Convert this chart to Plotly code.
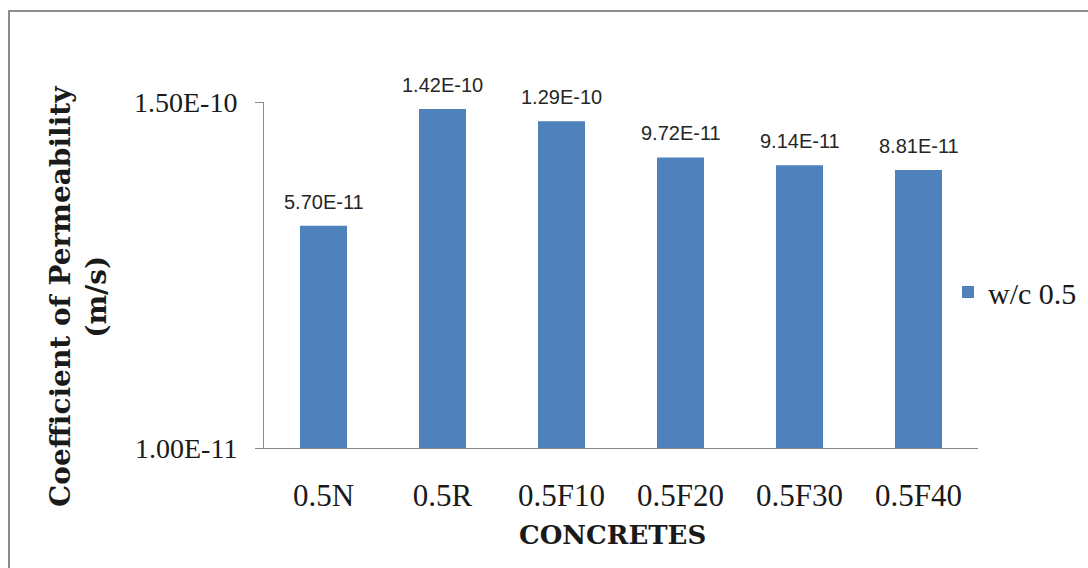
import math
import plotly.graph_objects as go

# Coefficient of permeability for w/c 0.5 concretes
categories = ["0.5N", "0.5R", "0.5F10", "0.5F20", "0.5F30", "0.5F40"]
permeability = [5.70e-11, 1.42e-10, 1.29e-10, 9.72e-11, 9.14e-11, 8.81e-11]
series_name = "w/c 0.5"
y_tick_values = [1.00e-11, 1.50e-10]

BAR_COLOR = "#4F81BD"
AXIS_COLOR = "#8a8a8a"
TEXT_COLOR = "#1a1a1a"
SERIF = "Liberation Serif"
SERIF_BOLD = "DejaVu Serif"
SANS = "Liberation Sans"

W, H = 1088, 568
L, R, T, B = 264, 110, 102, 120
plot_w = W - L - R
plot_h = H - T - B

def px_to_paper_x(px):
    return (px - L) / plot_w

def px_to_paper_y(py):
    return (H - B - py) / plot_h

fig = go.Figure()
fig.add_trace(go.Bar(
    x=categories,
    y=permeability,
    name=series_name,
    width=0.395,
    marker=dict(color=BAR_COLOR, line=dict(width=0)),
    showlegend=True,
))

# value labels above each bar
annotations = []
for cat, val in zip(categories, permeability):
    annotations.append(dict(
        x=cat, y=math.log10(val), xref="x", yref="y",
        text=f"{val:.2E}", showarrow=False,
        yanchor="bottom", yshift=11,
        font=dict(family=SANS, size=20, color="#262626"),
    ))

# axis titles
annotations.append(dict(
    x=px_to_paper_x(78), y=px_to_paper_y(297), xref="paper", yref="paper",
    text="Coefficient of Permeability<br>(m/s)", showarrow=False,
    textangle=-90, xanchor="center", yanchor="middle",
    font=dict(family=SERIF_BOLD, size=28, color=TEXT_COLOR, weight="bold"),
))
annotations.append(dict(
    x=px_to_paper_x(612), y=px_to_paper_y(535), xref="paper", yref="paper",
    text="CONCRETES", showarrow=False,
    xanchor="center", yanchor="middle",
    font=dict(family=SERIF_BOLD, size=26, color=TEXT_COLOR, weight="bold"),
))

fig.update_layout(
    width=W, height=H,
    margin=dict(l=L, r=R, t=T, b=B, autoexpand=False),
    paper_bgcolor="white", plot_bgcolor="white",
    annotations=annotations,
    shapes=[dict(
        type="rect", xref="paper", yref="paper",
        x0=px_to_paper_x(9), x1=px_to_paper_x(W + 20),
        y0=px_to_paper_y(H + 20), y1=px_to_paper_y(11),
        line=dict(color="#8c8c8c", width=2), fillcolor="rgba(0,0,0,0)",
        layer="below",
    )],
    legend=dict(
        x=px_to_paper_x(948), y=px_to_paper_y(292),
        xanchor="left", yanchor="middle",
        font=dict(family=SERIF, size=30, color=TEXT_COLOR),
        bgcolor="rgba(0,0,0,0)", borderwidth=0,
        itemwidth=30,
    ),
    xaxis=dict(
        type="category",
        showline=True, linecolor=AXIS_COLOR, linewidth=1,
        ticks="", showgrid=False, zeroline=False,
        tickfont=dict(family=SERIF, size=31, color=TEXT_COLOR),
        ticklabelstandoff=20,
    ),
    yaxis=dict(
        type="log",
        range=[math.log10(y_tick_values[0]), math.log10(y_tick_values[1])],
        tickvals=y_tick_values,
        ticktext=[f"{v:.2E}" for v in y_tick_values],
        showline=True, linecolor=AXIS_COLOR, linewidth=1,
        ticks="outside", ticklen=8, tickcolor=AXIS_COLOR,
        showgrid=False, zeroline=False,
        tickfont=dict(family=SERIF, size=28, color=TEXT_COLOR),
        ticklabelstandoff=12,
    ),
)

fig.write_html("out.html")
